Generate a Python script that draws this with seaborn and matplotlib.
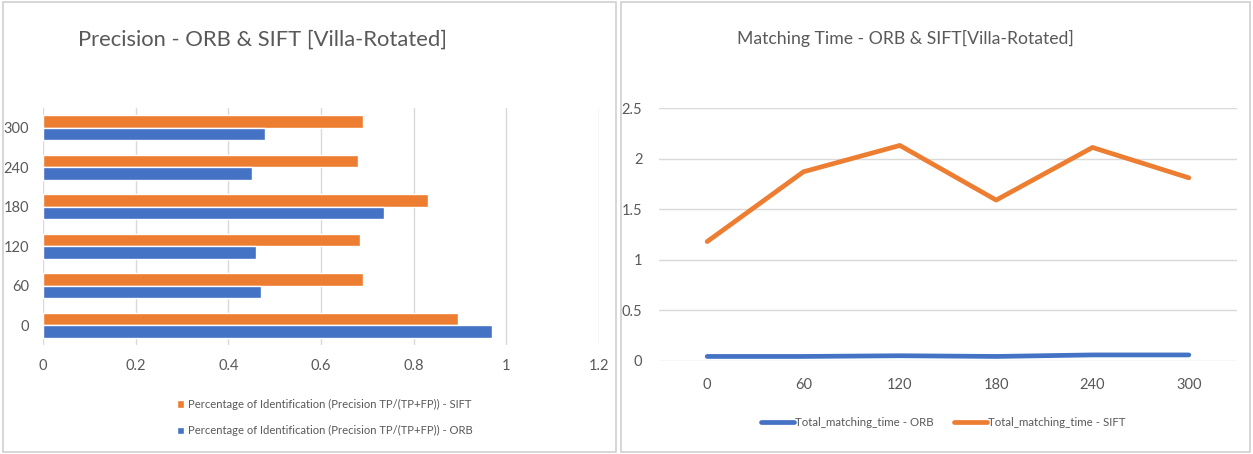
import pandas as pd
import matplotlib.pyplot as plt
import matplotlib.patches as patches
import seaborn as sns

sns.set_style("white")
plt.rcParams['font.family'] = ['Lato', 'DejaVu Sans']

# data
angles = [0, 60, 120, 180, 240, 300]
prec_orb = [0.97, 0.47, 0.46, 0.735, 0.45, 0.48]
prec_sift = [0.895, 0.69, 0.685, 0.83, 0.68, 0.69]
time_orb = [0.045, 0.045, 0.052, 0.045, 0.06, 0.06]
time_sift = [1.18, 1.87, 2.13, 1.59, 2.11, 1.81]

lbl_sift = "Percentage of Identification (Precision TP/(TP+FP)) - SIFT"
lbl_orb = "Percentage of Identification (Precision TP/(TP+FP)) - ORB"
orange = "#ED7D31"
blue = "#4472C4"
grey = "#595959"

prec = pd.DataFrame({
    "angle": [str(a) for a in angles] * 2,
    "value": prec_sift + prec_orb,
    "series": [lbl_sift] * 6 + [lbl_orb] * 6,
})
times = pd.DataFrame({
    "angle": angles * 2,
    "value": time_orb + time_sift,
    "series": ["Total_matching_time - ORB"] * 6 + ["Total_matching_time - SIFT"] * 6,
})

fig = plt.figure(figsize=(12.53, 4.54), dpi=100)

# panel frames
for x0, w in [(0.002, 0.49), (0.496, 0.502)]:
    fig.add_artist(patches.Rectangle((x0, 0.005), w, 0.99, transform=fig.transFigure,
                                     fill=False, edgecolor="#d0d0d0", lw=1.2))

# left: precision bars
ax1 = fig.add_axes([43 / 1253, 1 - 345 / 454, 556 / 1253, 237 / 454])
order = [str(a) for a in angles[::-1]]
sns.barplot(data=prec, x="value", y="angle", hue="series", order=order,
            hue_order=[lbl_sift, lbl_orb], palette=[orange, blue],
            width=0.64, orient="h", ax=ax1, saturation=1)
ax1.set_xlim(0, 1.2)
ax1.set_xticks([0, 0.2, 0.4, 0.6, 0.8, 1.0, 1.2])
ax1.set_xticklabels(["0", "0.2", "0.4", "0.6", "0.8", "1", "1.2"])
ax1.grid(axis="x", color="#d9d9d9", lw=1)
ax1.set_axisbelow(True)
for s in ax1.spines.values():
    s.set_visible(False)
ax1.set_xlabel("")
ax1.set_ylabel("")
ax1.tick_params(colors=grey, labelsize=10.5, length=0, pad=10)
ax1.legend(loc="upper left", bbox_to_anchor=(167 / 1253, 1 - 389 / 454),
           bbox_transform=fig.transFigure, frameon=False, fontsize=8.1,
           handlelength=0.65, handleheight=0.65, handletextpad=0.3,
           labelspacing=1.35, labelcolor=grey)
fig.text(263 / 1253, 1 - 40 / 454, "Precision - ORB & SIFT [Villa-Rotated]",
         ha="center", va="center", fontsize=15.8, color=grey)

# right: matching time lines
ax2 = fig.add_axes([659 / 1253, 1 - 361 / 454, 578 / 1253, 253 / 454])
sns.lineplot(data=times, x="angle", y="value", hue="series",
             palette=[blue, orange], lw=3.4, ax=ax2)
ax2.set_xlim(-30, 330)
ax2.set_ylim(0, 2.5)
ax2.set_xticks(angles)
ax2.set_yticks([0, 0.5, 1, 1.5, 2, 2.5])
ax2.set_yticklabels(["0", "0.5", "1", "1.5", "2", "2.5"])
ax2.grid(axis="y", color="#d9d9d9", lw=1)
ax2.set_axisbelow(True)
for s in ax2.spines.values():
    s.set_visible(False)
ax2.set_xlabel("")
ax2.set_ylabel("")
ax2.tick_params(colors=grey, labelsize=10.5, length=0, pad=12)
ax2.legend(loc="center", bbox_to_anchor=(943 / 1253, 1 - 423 / 454),
           bbox_transform=fig.transFigure, frameon=False, fontsize=8.3, ncol=2,
           handlelength=2.9, handletextpad=0.05, columnspacing=1.8, labelcolor=grey)
fig.text(905 / 1253, 1 - 38 / 454, "Matching Time - ORB & SIFT[Villa-Rotated]",
         ha="center", va="center", fontsize=12.7, color=grey)

fig.savefig("out.png", dpi=100)
